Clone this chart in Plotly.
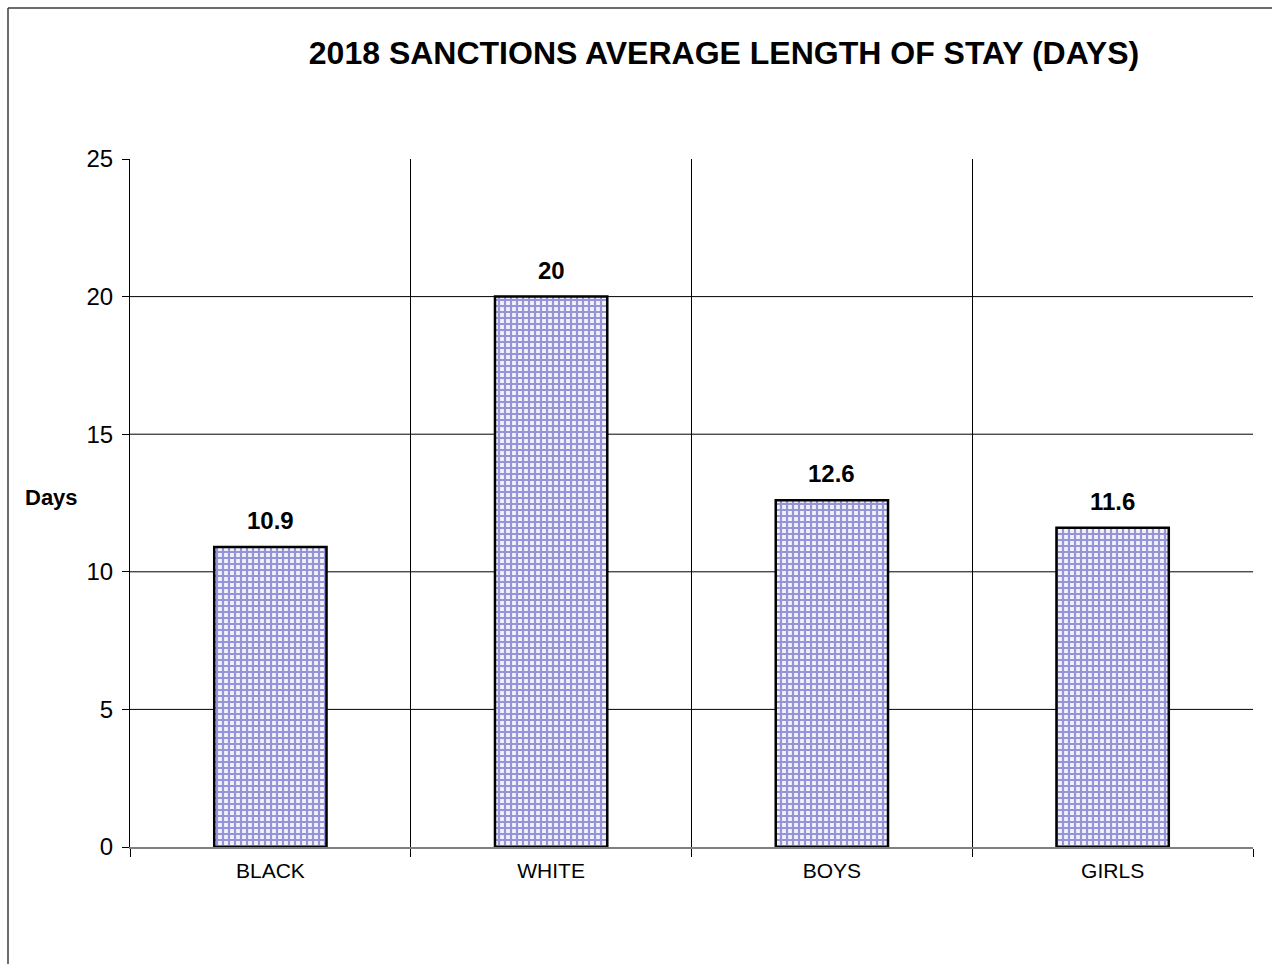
import plotly.graph_objects as go

# Average length of stay by group, 2018 sanctions
categories = ["BLACK", "WHITE", "BOYS", "GIRLS"]
avg_days = [10.9, 20, 12.6, 11.6]
y_ticks = [0, 5, 10, 15, 20, 25]

W, H = 1272, 964
L, R, T, B = 130, 19, 159, 117
pw, ph = W - L - R, H - T - B
FONT = "Liberation Sans, Arial"

fig = go.Figure()
fig.add_trace(go.Bar(
    x=categories,
    y=avg_days,
    width=0.4,
    marker=dict(
        color="white",
        line=dict(color="black", width=2.5),
        pattern=dict(shape="+", fgcolor="#9494d6", bgcolor="#f2f2fc",
                     size=6, solidity=0.6, fillmode="replace"),
    ),
    hoverinfo="skip",
))

# value labels above each bar
annotations = [dict(x=c, y=v, text=f"<b>{v:g}</b>", xref="x", yref="y",
                    yanchor="bottom", yshift=11, showarrow=False,
                    font=dict(family=FONT, size=24, color="black"))
               for c, v in zip(categories, avg_days)]
annotations.append(dict(text="<b>Days</b>", xref="paper", yref="paper",
                        x=(51 - L) / pw, y=(H - B - 497) / ph,
                        xanchor="center", yanchor="middle", showarrow=False,
                        font=dict(size=22, color="black")))

# horizontal gridlines (none at the top of the range)
shapes = []
for v in y_ticks[1:-1]:
    shapes.append(dict(type="line", xref="paper", x0=0, x1=1, yref="y", y0=v, y1=v,
                       line=dict(color="black", width=1), layer="below"))

# outer chart frame: left and top edges
fx = (8 - L) / pw
fy = (H - B - 8) / ph
frame = dict(color="#3c3c3c", width=1.5)
shapes.append(dict(type="line", xref="paper", yref="paper",
                   x0=fx, x1=fx, y0=-0.3, y1=fy, line=frame, layer="below"))
shapes.append(dict(type="line", xref="paper", yref="paper",
                   x0=fx, x1=1.2, y0=fy, y1=fy, line=frame, layer="below"))

fig.update_layout(
    width=W, height=H,
    margin=dict(l=L, r=R, t=T, b=B),
    paper_bgcolor="white", plot_bgcolor="white",
    showlegend=False,
    bargap=0.6,
    shapes=shapes,
    annotations=annotations,
    font=dict(family=FONT, color="black"),
    title=dict(text="<b>2018 SANCTIONS AVERAGE LENGTH OF STAY (DAYS)</b>",
               x=724 / W, xanchor="center", y=1 - 53 / H, yanchor="middle",
               font=dict(size=32, color="black")),
)

fig.update_xaxes(
    type="category",
    tickson="boundaries",
    showgrid=True, gridcolor="black", gridwidth=1,
    ticks="outside", ticklen=8, tickcolor="black", tickwidth=1,
    showline=True, linecolor="#808080", linewidth=2,
    tickfont=dict(size=21, color="black"),
    ticklabelstandoff=4,
    range=[-0.5, 3.5],
)
fig.update_yaxes(
    range=[0, 25],
    tickvals=y_ticks,
    showgrid=False, zeroline=False,
    ticks="outside", ticklen=7, tickcolor="black", tickwidth=1,
    showline=True, linecolor="black", linewidth=1,
    tickfont=dict(size=24, color="black"),
    ticklabelstandoff=4,
)

fig.write_html("out.html")
